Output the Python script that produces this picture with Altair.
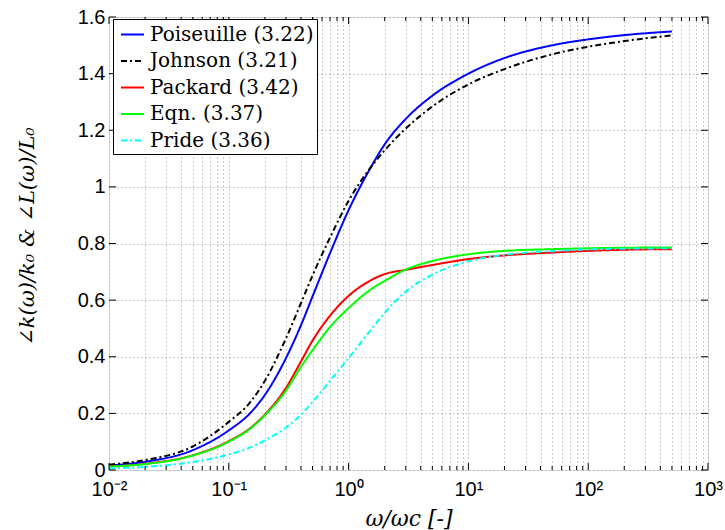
import altair as alt
import pandas as pd

# ---- data ----
freq = [0.01, 0.02, 0.05, 0.1, 0.15, 0.2, 0.3, 0.4, 0.5, 0.7, 1, 1.5, 2, 3, 5, 10, 20, 50, 100, 200, 500]

poiseuille = [0.016, 0.029, 0.07, 0.14, 0.2, 0.265, 0.395, 0.511, 0.613, 0.766, 0.918, 1.062, 1.15,
              1.24, 1.322, 1.40, 1.455, 1.50, 1.521, 1.536, 1.549]
johnson = [0.019, 0.035, 0.083, 0.17, 0.238, 0.315, 0.465, 0.589, 0.687, 0.821, 0.951, 1.064, 1.129,
           1.206, 1.284, 1.362, 1.416, 1.468, 1.495, 1.515, 1.535]
packard = [0.012, 0.022, 0.052, 0.102, 0.147, 0.196, 0.29, 0.383, 0.457, 0.545, 0.615, 0.668, 0.692,
           0.707, 0.724, 0.745, 0.758, 0.768, 0.774, 0.778, 0.78]
eqn = [0.012, 0.021, 0.051, 0.10, 0.145, 0.193, 0.28, 0.364, 0.423, 0.505, 0.572, 0.635, 0.668,
       0.708, 0.738, 0.762, 0.774, 0.78, 0.783, 0.785, 0.786]
pride = [0.005, 0.011, 0.028, 0.055, 0.079, 0.105, 0.15, 0.195, 0.24, 0.315, 0.395, 0.49, 0.555,
         0.63, 0.69, 0.737, 0.76, 0.773, 0.779, 0.782, 0.783]

series_names = ["Poiseuille (3.22)", "Johnson (3.21)", "Packard (3.42)", "Eqn. (3.37)", "Pride (3.36)"]
series_values = [poiseuille, johnson, packard, eqn, pride]
colors = ["#0000ff", "#000000", "#ff0000", "#00ff00", "#00ffff"]
dashes = [[1, 0], [6, 3, 2, 3], [1, 0], [1, 0], [6, 3, 2, 3]]

x_major = [0.01, 0.1, 1, 10, 100, 1000]
x_major_labels = ["10⁻²", "10⁻¹", "10⁰", "10¹", "10²", "10³"]
x_minor = [k * m for m in [0.01, 0.1, 1, 10, 100] for k in range(2, 10)]
y_ticks = [0, 0.2, 0.4, 0.6, 0.8, 1.0, 1.2, 1.4, 1.6]

W, H = 599, 453
SERIF = "DejaVu Serif"

rows = []
for name, vals in zip(series_names, series_values):
    for f, v in zip(freq, vals):
        rows.append({"series": name, "w": f, "v": v})
df = pd.DataFrame(rows)

label_expr = " : ".join(
    [f"datum.value == {v} ? '{t}'" for v, t in zip(x_major, x_major_labels)]
) + " : ''"

x_scale = alt.Scale(type="log", domain=[0.01, 1000], nice=False)
y_scale = alt.Scale(domain=[0, 1.6], nice=False)

grid_style = dict(grid=True, gridColor="#9a9a9a", gridDash=[1, 3], gridWidth=1)

x_axis = alt.Axis(values=x_major + x_minor, labelExpr=label_expr, ticks=False, domain=False,
                  labelFlush=False, labelOverlap=False, labelFont="Liberation Sans",
                  labelFontSize=20, labelColor="black", labelPadding=9,
                  title="ω/ωc [-]", titleFont=SERIF, titleFontStyle="italic",
                  titleFontWeight="normal", titleFontSize=22, titleColor="black",
                  titleY=55, titleBaseline="alphabetic", **grid_style)
y_axis = alt.Axis(values=y_ticks, labelExpr="format(datum.value, '.1~f')", ticks=False, domain=False,
                  labelFlush=False, labelOverlap=False, labelFont="Liberation Sans",
                  labelFontSize=20, labelColor="black", labelPadding=4,
                  title="∠k(ω)/k₀ & ∠L(ω)/L₀", titleFont=SERIF, titleFontStyle="italic",
                  titleFontWeight="normal", titleFontSize=21, titleColor="black",
                  titleX=-82, titleY=219, titleAlign="center", titleBaseline="middle", titleAngle=270,
                  **grid_style)

legend = alt.Legend(title=None, orient="none", legendX=4, legendY=2)

lines = alt.Chart(df).mark_line(strokeWidth=2, interpolate="monotone").encode(
    x=alt.X("w:Q", scale=x_scale, axis=x_axis),
    y=alt.Y("v:Q", scale=y_scale, axis=y_axis),
    color=alt.Color("series:N", scale=alt.Scale(domain=series_names, range=colors), legend=legend),
    strokeDash=alt.StrokeDash("series:N", scale=alt.Scale(domain=series_names, range=dashes), legend=legend),
    detail="series:N",
)

xmaj = pd.DataFrame({"w": x_major})
xmin = pd.DataFrame({"w": x_minor})
yt = pd.DataFrame({"v": y_ticks})

def xticks(data, length):
    bottom = alt.Chart(data).mark_rule(color="black", strokeWidth=1).encode(
        x=alt.X("w:Q", scale=x_scale, axis=x_axis), y=alt.value(H), y2=alt.value(H - length))
    top = alt.Chart(data).mark_rule(color="black", strokeWidth=1).encode(
        x=alt.X("w:Q", scale=x_scale, axis=x_axis), y=alt.value(0), y2=alt.value(length))
    return [bottom, top]

yleft = alt.Chart(yt).mark_rule(color="black", strokeWidth=1).encode(
    y=alt.Y("v:Q", scale=y_scale, axis=y_axis), x=alt.value(0), x2=alt.value(7))
yright = alt.Chart(yt).mark_rule(color="black", strokeWidth=1).encode(
    y=alt.Y("v:Q", scale=y_scale, axis=y_axis), x=alt.value(W), x2=alt.value(W - 7))

chart = alt.layer(
    lines, *xticks(xmaj, 7), *xticks(xmin, 4), yleft, yright
).properties(
    width=W, height=H,
    autosize=alt.AutoSizeParams(type="none"),
    padding={"left": 109, "top": 17, "right": 17, "bottom": 60},
).configure_view(
    stroke="black", strokeWidth=1.2, fill="white"
).configure(background="white").configure_legend(
    strokeColor="black", fillColor="white", padding=3, cornerRadius=0,
    labelFont=SERIF, labelFontSize=20, labelColor="black", labelOffset=5,
    symbolType="stroke", symbolSize=529, symbolStrokeWidth=2, rowPadding=3.5,
    symbolOffset=4, labelLimit=400,
)

chart.save("out.html", embed_options={"renderer": "svg", "actions": False})
